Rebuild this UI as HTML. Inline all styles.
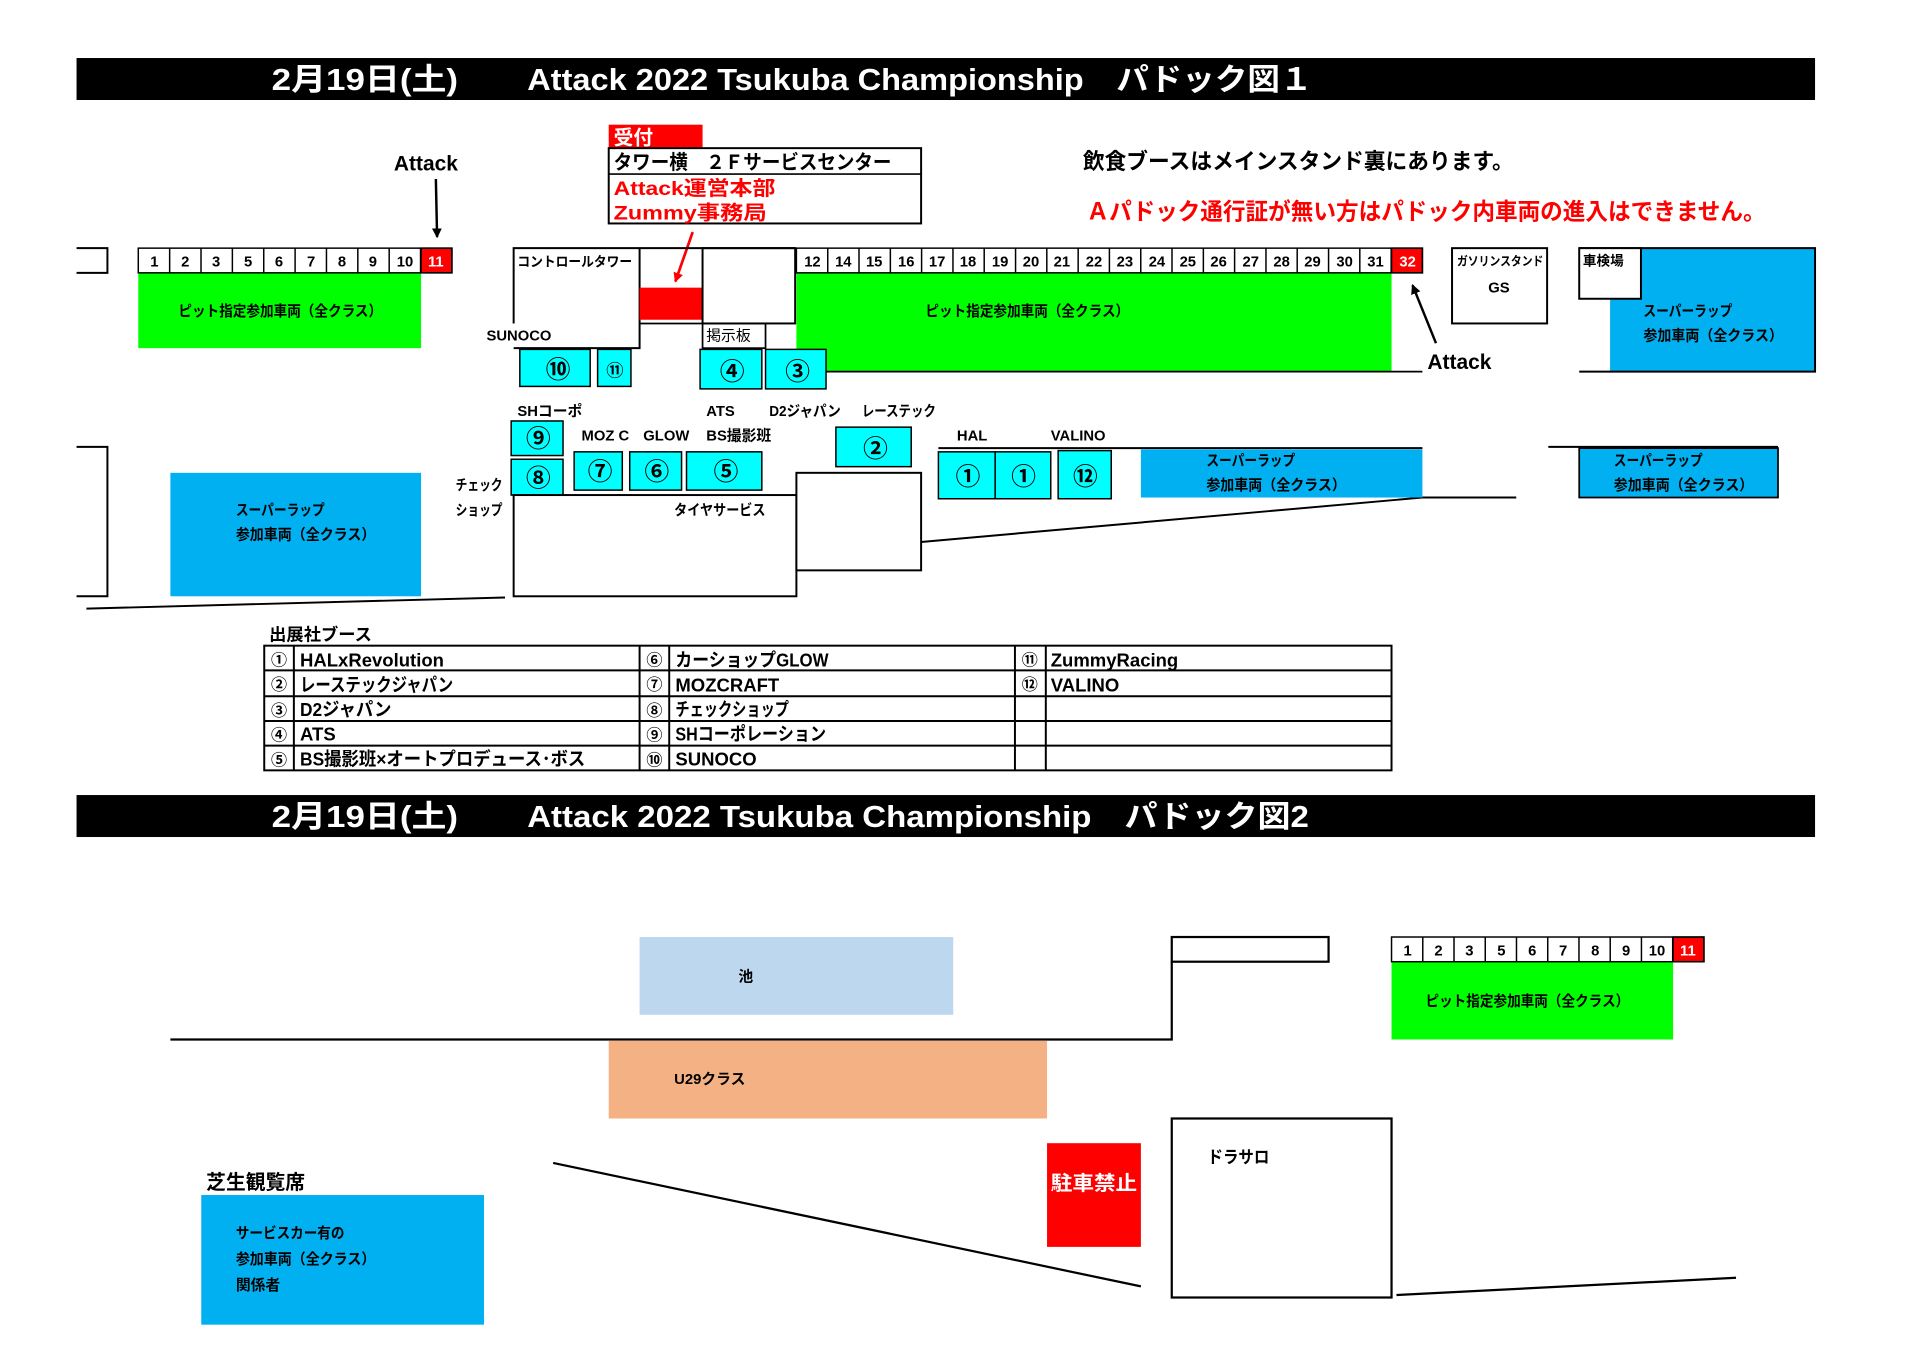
<!DOCTYPE html>
<html><head><meta charset="utf-8"><style>
html,body{margin:0;padding:0;background:#fff;}
svg{display:block;}
text{font-family:"Liberation Sans","Noto Sans CJK JP",sans-serif;font-weight:bold;}
</style></head><body>
<svg width="1920" height="1358" viewBox="0 0 1555 1100" preserveAspectRatio="none" xmlns="http://www.w3.org/2000/svg">
<defs><marker id="ab" markerWidth="8" markerHeight="8" refX="7" refY="4" orient="auto" markerUnits="userSpaceOnUse"><path d="M0,0 L8,4 L0,8 z" fill="#000"/></marker>
<marker id="ar" markerWidth="8" markerHeight="8" refX="7" refY="4" orient="auto" markerUnits="userSpaceOnUse"><path d="M0,0 L8,4 L0,8 z" fill="#f00"/></marker></defs>
<rect x="62" y="47" width="1408" height="34" fill="#000"/>
<rect x="62" y="644" width="1408" height="34" fill="#000"/>
<text x="220" y="73" font-size="25" fill="#fff" textLength="151" lengthAdjust="spacingAndGlyphs">2月19日(土)</text>
<text x="427" y="73" font-size="25" fill="#fff" textLength="636" lengthAdjust="spacingAndGlyphs">Attack 2022  Tsukuba Championship　パドック図１</text>
<text x="220" y="670" font-size="25" fill="#fff" textLength="151" lengthAdjust="spacingAndGlyphs">2月19日(土)</text>
<text x="427" y="670" font-size="25" fill="#fff" textLength="633" lengthAdjust="spacingAndGlyphs">Attack 2022  Tsukuba Championship　パドック図2</text>

<text x="319" y="138" font-size="17">Attack</text>
<line x1="353" y1="145" x2="354" y2="192" stroke="#000" stroke-width="2" marker-end="url(#ab)"/>
<text x="1156" y="299" font-size="17">Attack</text>
<line x1="1163" y1="278" x2="1144" y2="231" stroke="#000" stroke-width="2" marker-end="url(#ab)"/>

<rect x="493" y="101" width="76" height="19" fill="#f00"/>
<text x="497" y="117" font-size="16" fill="#fff">受付</text>
<rect x="493" y="120" width="253" height="61" fill="#fff" stroke="#000" stroke-width="1.6"/>
<line x1="493" y1="141" x2="746" y2="141" stroke="#000" stroke-width="1.4"/>
<text x="497" y="137" font-size="16" textLength="225" lengthAdjust="spacingAndGlyphs">タワー横　２Ｆサービスセンター</text>
<text x="497" y="158" font-size="16" fill="#f00" textLength="131" lengthAdjust="spacingAndGlyphs">Attack運営本部</text>
<text x="497" y="178" font-size="16" fill="#f00" textLength="124" lengthAdjust="spacingAndGlyphs">Zummy事務局</text>
<line x1="561" y1="188" x2="547" y2="228" stroke="#f00" stroke-width="2.2" marker-end="url(#ar)"/>

<text x="877" y="137" font-size="18" textLength="349" lengthAdjust="spacingAndGlyphs">飲食ブースはメインスタンド裏にあります。</text>
<text x="880" y="178" font-size="19" fill="#f00" textLength="550" lengthAdjust="spacingAndGlyphs">Ａパドック通行証が無い方はパドック内車両の進入はできません。</text>

<polyline points="62,201 87,201 87,221 62,221" fill="none" stroke="#000" stroke-width="1.6"/>
<rect x="112" y="221" width="229" height="61" fill="#00ff00"/>
<text x="227" y="256" font-size="12" text-anchor="middle" textLength="165" lengthAdjust="spacingAndGlyphs">ピット指定参加車両（全クラス）</text>

<polyline points="416,262 416,201 644,201" fill="none" stroke="#000" stroke-width="1.6"/>
<polyline points="416,282 518,282 518,201" fill="none" stroke="#000" stroke-width="1.6"/>
<rect x="518" y="233" width="51" height="26" fill="#f00"/>
<line x1="518" y1="262" x2="569" y2="262" stroke="#000" stroke-width="1.4"/>
<rect x="569" y="201" width="75" height="61" fill="none" stroke="#000" stroke-width="1.6"/>
<rect x="569" y="262" width="51" height="20" fill="none" stroke="#000" stroke-width="1.4"/>
<text x="419" y="216" font-size="11" textLength="93" lengthAdjust="spacingAndGlyphs">コントロールタワー</text>
<text x="572" y="276" font-size="12" style="font-weight:normal">掲示板</text>
<text x="394" y="276" font-size="12">SUNOCO</text>

<rect x="645" y="221" width="482" height="80" fill="#00ff00"/>
<line x1="645" y1="301" x2="1152" y2="301" stroke="#000" stroke-width="1.4"/>
<text x="832" y="256" font-size="12" text-anchor="middle" textLength="165" lengthAdjust="spacingAndGlyphs">ピット指定参加車両（全クラス）</text>

<rect x="1176" y="201" width="77" height="61" fill="#fff" stroke="#000" stroke-width="1.6"/>
<text x="1180" y="215" font-size="10" textLength="70" lengthAdjust="spacingAndGlyphs">ガソリンスタンド</text>
<text x="1214" y="237" font-size="12" text-anchor="middle">GS</text>
<rect x="1304" y="201" width="166" height="100" fill="#00b0f0"/>
<polyline points="1279,201 1470,201 1470,301 1279,301" fill="none" stroke="#000" stroke-width="1.6"/>
<rect x="1279" y="201" width="50" height="41" fill="#fff" stroke="#000" stroke-width="1.6"/>
<text x="1282" y="215" font-size="11">車検場</text>
<text x="1331" y="256" font-size="12" textLength="72" lengthAdjust="spacingAndGlyphs">スーパーラップ</text>
<text x="1331" y="276" font-size="12" textLength="113" lengthAdjust="spacingAndGlyphs">参加車両（全クラス）</text>

<g fill="#00ffff" stroke="#000" stroke-width="1.2">
<rect x="421" y="283" width="57" height="30"/><rect x="484" y="283" width="27" height="30"/>
<rect x="567" y="283" width="50" height="32"/><rect x="620" y="283" width="49" height="32"/>
<rect x="414" y="341" width="42" height="28"/><rect x="414" y="372" width="42" height="29"/>
<rect x="465" y="366" width="39" height="31"/><rect x="510" y="366" width="42" height="31"/><rect x="556" y="366" width="61" height="31"/>
<rect x="677" y="346" width="61" height="32"/>
<rect x="760" y="366" width="46" height="38"/><rect x="806" y="366" width="45" height="38"/><rect x="857" y="365" width="43" height="39"/>
</g>
<g font-size="20" text-anchor="middle" style="font-weight:normal">
<text x="452" y="306">⑩</text><text x="498" y="305" font-size="14">⑪</text>
<text x="593" y="308">④</text><text x="646" y="308">③</text>
<text x="436" y="362">⑨</text><text x="436" y="394">⑧</text>
<text x="486" y="389">⑦</text><text x="532" y="389">⑥</text><text x="588" y="389">⑤</text>
<text x="709" y="370">②</text>
<text x="784" y="393">①</text><text x="829" y="393">①</text><text x="879" y="393">⑫</text>
</g>
<g font-size="12">
<text x="419" y="337">SHコーポ</text><text x="572" y="337">ATS</text><text x="623" y="337" textLength="58" lengthAdjust="spacingAndGlyphs">D2ジャパン</text><text x="698" y="337" textLength="60" lengthAdjust="spacingAndGlyphs">レーステック</text>
<text x="471" y="357">MOZ C</text><text x="521" y="357">GLOW</text><text x="572" y="357">BS撮影班</text>
<text x="369" y="397" textLength="38" lengthAdjust="spacingAndGlyphs">チェック</text><text x="369" y="417" textLength="38" lengthAdjust="spacingAndGlyphs">ショップ</text>
<text x="546" y="417" textLength="74" lengthAdjust="spacingAndGlyphs">タイヤサービス</text>
<text x="658" y="417">１Ｆ　トイレ</text><text x="658" y="437">２Ｆ　観戦室</text>
<text x="775" y="357">HAL</text><text x="851" y="357">VALINO</text>
</g>
<rect x="416" y="401" width="229" height="82" fill="none" stroke="#000" stroke-width="1.6"/>
<rect x="645" y="383" width="101" height="79" fill="#fff" stroke="#000" stroke-width="1.6"/>
<g stroke="#000" stroke-width="1.6" fill="none">
<line x1="746" y1="439" x2="1152" y2="403"/><line x1="1152" y1="403" x2="1228" y2="403"/>
<line x1="760" y1="363" x2="1152" y2="363"/>
<line x1="1254" y1="362" x2="1440" y2="362"/>
<polyline points="62,362 87,362 87,483 62,483"/>
<line x1="70" y1="493" x2="409" y2="484"/>
</g>
<rect x="924" y="364" width="228" height="39" fill="#00b0f0"/>
<text x="977" y="377" font-size="12" textLength="72" lengthAdjust="spacingAndGlyphs">スーパーラップ</text><text x="977" y="397" font-size="12" textLength="113" lengthAdjust="spacingAndGlyphs">参加車両（全クラス）</text>
<rect x="1279" y="363" width="161" height="40" fill="#00b0f0" stroke="#000" stroke-width="1.4"/>
<text x="1307" y="377" font-size="12" textLength="72" lengthAdjust="spacingAndGlyphs">スーパーラップ</text><text x="1307" y="397" font-size="12" textLength="113" lengthAdjust="spacingAndGlyphs">参加車両（全クラス）</text>
<rect x="138" y="383" width="203" height="100" fill="#00b0f0"/>
<text x="191" y="417" font-size="12" textLength="72" lengthAdjust="spacingAndGlyphs">スーパーラップ</text><text x="191" y="437" font-size="12" textLength="113" lengthAdjust="spacingAndGlyphs">参加車両（全クラス）</text>

<text x="218" y="519" font-size="14">出展社ブース</text>
<g stroke="#000" stroke-width="1.6" fill="none">
<rect x="214" y="523" width="913" height="101"/>
<line x1="214" y1="543" x2="1127" y2="543"/><line x1="214" y1="564" x2="1127" y2="564"/>
<line x1="214" y1="584" x2="1127" y2="584"/><line x1="214" y1="604" x2="1127" y2="604"/>
<line x1="238" y1="523" x2="238" y2="624"/><line x1="518" y1="523" x2="518" y2="624"/>
<line x1="542" y1="523" x2="542" y2="624"/><line x1="822" y1="523" x2="822" y2="624"/>
<line x1="847" y1="523" x2="847" y2="624"/>
</g>
<g font-size="15">
<g font-size="13" style="font-weight:normal" text-anchor="middle">
<text x="226" y="539">①</text><text x="226" y="559">②</text><text x="226" y="580">③</text><text x="226" y="600">④</text><text x="226" y="620">⑤</text>
<text x="530" y="539">⑥</text><text x="530" y="559">⑦</text><text x="530" y="580">⑧</text><text x="530" y="600">⑨</text><text x="530" y="620">⑩</text>
<text x="834" y="539">⑪</text><text x="834" y="559">⑫</text></g>
<text x="243" y="540">HALxRevolution</text><text x="243" y="560" textLength="124" lengthAdjust="spacingAndGlyphs">レーステックジャパン</text><text x="243" y="580" textLength="74" lengthAdjust="spacingAndGlyphs">D2ジャパン</text><text x="243" y="600">ATS</text><text x="243" y="620" textLength="231" lengthAdjust="spacingAndGlyphs">BS撮影班×オートプロデュース･ボス</text>
<text x="547" y="540" textLength="124" lengthAdjust="spacingAndGlyphs">カーショップGLOW</text><text x="547" y="560">MOZCRAFT</text><text x="547" y="580" textLength="92" lengthAdjust="spacingAndGlyphs">チェックショップ</text><text x="547" y="600" textLength="122" lengthAdjust="spacingAndGlyphs">SHコーポレーション</text><text x="547" y="620">SUNOCO</text>
<text x="851" y="540">ZummyRacing</text><text x="851" y="560">VALINO</text>
</g>

<rect x="518" y="759" width="254" height="63" fill="#bdd7ee"/>
<text x="598" y="795" font-size="12">池</text>
<g stroke="#000" stroke-width="1.8" fill="none">
<polyline points="138,842 949,842 949,779"/>
<rect x="949" y="759" width="127" height="20"/>
<line x1="448" y1="942" x2="924" y2="1042"/>
<line x1="1131" y1="1049" x2="1406" y2="1035"/>
<rect x="949" y="906" width="178" height="145"/>
</g>
<rect x="1127" y="779" width="228" height="63" fill="#00ff00"/>
<text x="1237" y="815" font-size="12" text-anchor="middle" textLength="165" lengthAdjust="spacingAndGlyphs">ピット指定参加車両（全クラス）</text>
<rect x="493" y="843" width="355" height="63" fill="#f4b183"/>
<text x="546" y="878" font-size="12">U29クラス</text>
<rect x="848" y="926" width="76" height="84" fill="#f00"/>
<text x="886" y="964" font-size="16" fill="#fff" text-anchor="middle" textLength="70" lengthAdjust="spacingAndGlyphs">駐車禁止</text>
<text x="978" y="942" font-size="14" textLength="50" lengthAdjust="spacingAndGlyphs">ドラサロ</text>
<text x="167" y="963" font-size="16">芝生観覧席</text>
<rect x="163" y="968" width="229" height="105" fill="#00b0f0"/>
<text x="191" y="1003" font-size="12" textLength="88" lengthAdjust="spacingAndGlyphs">サービスカー有の</text>
<text x="191" y="1024" font-size="12" textLength="113" lengthAdjust="spacingAndGlyphs">参加車両（全クラス）</text>
<text x="191" y="1045" font-size="12">関係者</text>

<g stroke="#000" stroke-width="1.2" font-size="12">
<rect x="341" y="201" width="25" height="20" fill="#f00"/>
<rect x="1127" y="201" width="25" height="20" fill="#f00"/>
<rect x="1355" y="759" width="25" height="20" fill="#f00"/>
<rect x="112" y="201" width="254" height="20" fill="none"/>
<rect x="645" y="201" width="507" height="20" fill="none"/>
<rect x="1127" y="759" width="253" height="20" fill="none"/>
<path d="M137.4,201v20M162.8,201v20M188.2,201v20M213.6,201v20M239,201v20M264.4,201v20M289.8,201v20M315.2,201v20M340.6,201v20
M670.4,201v20M695.7,201v20M721.1,201v20M746.4,201v20M771.8,201v20M797.1,201v20M822.5,201v20M847.8,201v20M873.2,201v20M898.5,201v20M923.9,201v20M949.2,201v20M974.6,201v20M999.9,201v20M1025.3,201v20M1050.6,201v20M1076,201v20M1101.3,201v20M1126.7,201v20
M1152.3,759v20M1177.6,759v20M1202.9,759v20M1228.2,759v20M1253.5,759v20M1278.8,759v20M1304.1,759v20M1329.4,759v20M1354.7,759v20" fill="none"/>
</g>
<g font-size="12" text-anchor="middle" style="font-weight:normal">
<text x="125" y="216">1</text><text x="150" y="216">2</text><text x="175" y="216">3</text><text x="201" y="216">5</text><text x="226" y="216">6</text><text x="252" y="216">7</text><text x="277" y="216">8</text><text x="302" y="216">9</text><text x="328" y="216">10</text><text x="353" y="216" fill="#fff">11</text>
<text x="658" y="216">12</text><text x="683" y="216">14</text><text x="708" y="216">15</text><text x="734" y="216">16</text><text x="759" y="216">17</text><text x="784" y="216">18</text><text x="810" y="216">19</text><text x="835" y="216">20</text><text x="860" y="216">21</text><text x="886" y="216">22</text><text x="911" y="216">23</text><text x="937" y="216">24</text><text x="962" y="216">25</text><text x="987" y="216">26</text><text x="1013" y="216">27</text><text x="1038" y="216">28</text><text x="1063" y="216">29</text><text x="1089" y="216">30</text><text x="1114" y="216">31</text><text x="1140" y="216" fill="#fff">32</text>
<text x="1140" y="774">1</text><text x="1165" y="774">2</text><text x="1190" y="774">3</text><text x="1216" y="774">5</text><text x="1241" y="774">6</text><text x="1266" y="774">7</text><text x="1292" y="774">8</text><text x="1317" y="774">9</text><text x="1342" y="774">10</text><text x="1367" y="774" fill="#fff">11</text>
</g>
</svg>
</body></html>
